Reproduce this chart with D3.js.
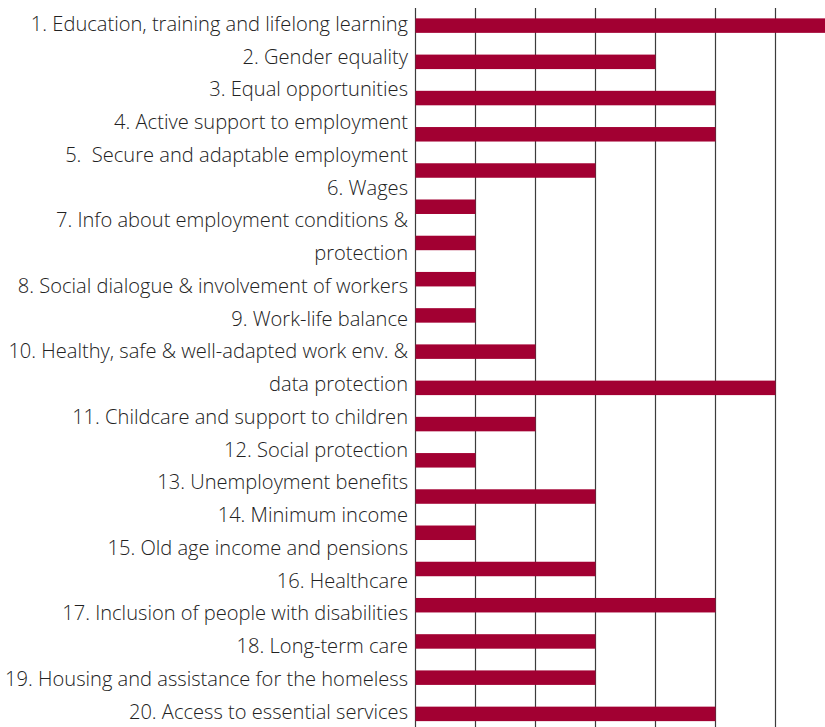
<!DOCTYPE html>
<html>
<head>
<meta charset="utf-8">
<script src="https://cdn.jsdelivr.net/npm/d3@7/dist/d3.min.js"></script>
<style>
  html, body { margin: 0; padding: 0; background: #fff; }
  svg { display: block; }
  .label { font-family: "Open Sans", "Noto Sans", sans-serif; font-size: 20.1px; font-weight: 300; fill: #222222; white-space: pre; }
</style>
</head>
<body>
<script>
// Pillars of the European Pillar of Social Rights ("\n" marks a wrapped line)
const categories = [
  "1. Education, training and lifelong learning",
  "2. Gender equality",
  "3. Equal opportunities",
  "4. Active support to employment",
  "5.  Secure and adaptable employment",
  "6. Wages",
  "7. Info about employment conditions &\nprotection",
  "8. Social dialogue & involvement of workers",
  "9. Work-life balance",
  "10. Healthy, safe & well-adapted work env. &\ndata protection",
  "11. Childcare and support to children",
  "12. Social protection",
  "13. Unemployment benefits",
  "14. Minimum income",
  "15. Old age income and pensions",
  "16. Healthcare",
  "17. Inclusion of people with disabilities",
  "18. Long-term care",
  "19. Housing and assistance for the homeless",
  "20. Access to essential services"
];
const counts = [7, 4, 5, 5, 3, 1, 1, 1, 1, 2, 6, 2, 1, 3, 1, 3, 5, 3, 3, 5];
const gridTicks = [0, 1, 2, 3, 4, 5, 6];

const W = 825, H = 727;
const plotTop = 7.5, plotBottom = 732;

const svg = d3.select("body").append("svg")
  .attr("width", W).attr("height", H);

const x = d3.scaleLinear().domain([0, 7]).range([415.5, 835.5]);
const y = d3.scaleBand().domain(categories).range([plotTop, plotBottom])
  .paddingInner(0.6).paddingOuter(0.3);

// vertical gridlines (the first one doubles as the axis line)
svg.append("g").selectAll("line").data(gridTicks).join("line")
  .attr("x1", d => x(d)).attr("x2", d => x(d))
  .attr("y1", plotTop + 0.5).attr("y2", H)
  .attr("stroke", "#3c3c3c").attr("stroke-width", 1.2);

// bars
svg.append("g").selectAll("rect").data(categories).join("rect")
  .attr("x", x(0))
  .attr("y", d => y(d))
  .attr("width", (d, i) => x(counts[i]) - x(0))
  .attr("height", y.bandwidth())
  .attr("fill", "#a20032");

// category labels: wrapped lines are spread evenly down the left side
const lines = categories.flatMap(c => c.split("\n"));
const ly = d3.scaleBand().domain(d3.range(lines.length)).range([plotTop, plotBottom - 4]);
svg.append("g").selectAll("text").data(lines).join("text")
  .attr("class", "label")
  .attr("x", 408)
  .attr("y", (d, i) => ly(i) + ly.bandwidth() / 2)
  .attr("dy", "0.35em")
  .attr("text-anchor", "end")
  .text(d => d);
</script>
</body>
</html>
